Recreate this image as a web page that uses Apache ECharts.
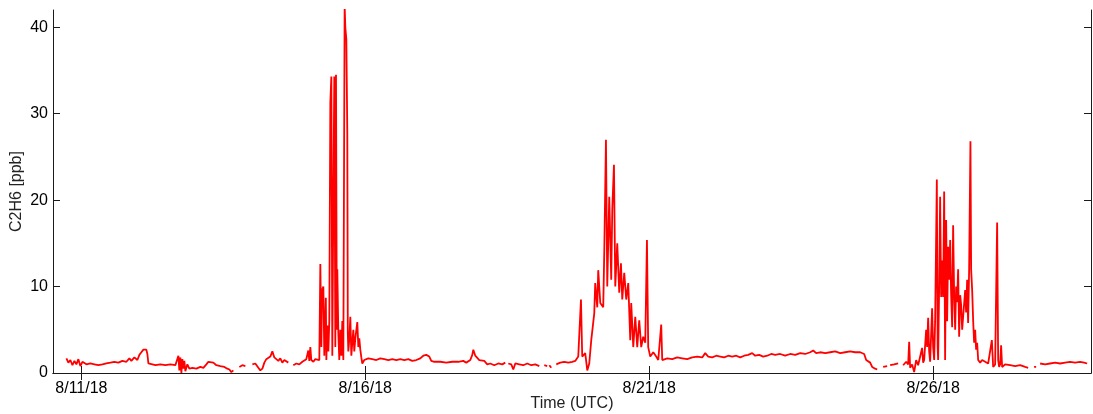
<!DOCTYPE html>
<html>
<head>
<meta charset="utf-8">
<script src="https://cdn.jsdelivr.net/npm/echarts@6/dist/echarts.min.js"></script>
<style>
  html, body { margin: 0; padding: 0; background: #fff; }
  #chart { width: 1093px; height: 414px; }
</style>
</head>
<body>
<div id="chart"></div>
<script>
// time in days of August 2018 (UTC), C2H6 in ppb; each segment is an unbroken run of the line
const seg1 = [[10.736,1.7],[10.771,1.2],[10.806,1.5],[10.842,0.9],[10.877,1.4],[10.912,1.0],[10.947,1.6],[10.982,0.8],[11.018,1.3],[11.053,1.1],[11.088,1.0],[11.158,1.1],[11.229,1.0],[11.299,0.9],[11.370,1.0],[11.440,1.1],[11.511,1.2],[11.581,1.3],[11.651,1.2],[11.722,1.4],[11.792,1.3],[11.845,1.7],[11.880,1.4],[11.933,1.8],[11.986,1.5],[12.021,2.1],[12.056,2.4],[12.092,2.7],[12.127,2.9],[12.144,2.7],[12.162,2.2],[12.180,1.1],[12.215,1.0],[12.303,0.9],[12.391,1.0],[12.479,0.9],[12.567,1.0],[12.655,0.9],[12.690,1.1],[12.708,2.0],[12.725,0.3],[12.743,1.8],[12.761,0.0],[12.778,1.6],[12.796,0.5],[12.813,1.4],[12.831,0.2],[12.866,1.0],[12.901,0.5],[12.954,0.6],[13.025,0.5],[13.095,0.7],[13.148,0.6],[13.201,1.0],[13.236,1.3],[13.271,1.1],[13.324,1.2],[13.377,0.9],[13.447,0.8],[13.518,0.7],[13.570,0.5],[13.606,0.4],[13.641,0.1],[13.676,0.3]];
const seg2 = [[13.782,0.7],[13.835,0.9],[13.888,0.8]];
const seg3 = [[14.011,1.0],[14.063,1.1],[14.116,0.6],[14.151,0.3],[14.187,0.5],[14.222,1.2],[14.257,1.6],[14.292,1.8],[14.327,1.9],[14.363,2.5],[14.398,1.8],[14.433,1.6],[14.468,1.4],[14.503,1.7],[14.539,1.2],[14.574,1.5],[14.609,1.3],[14.644,1.2]];
const seg4 = [[14.732,0.9],[14.785,1.1],[14.838,1.0],[14.891,1.3],[14.926,1.2],[14.961,1.6],[14.996,2.6],[15.014,1.4],[15.032,3.0],[15.049,1.5],[15.085,1.3],[15.120,1.6],[15.155,1.4],[15.190,1.5],[15.208,12.6],[15.226,3.0],[15.238,9.6],[15.261,10.0],[15.278,2.0],[15.305,8.7],[15.314,1.5],[15.331,5.5],[15.349,2.5],[15.366,6.0],[15.384,31.3],[15.402,34.3],[15.419,2.0],[15.437,20.0],[15.454,34.3],[15.472,3.0],[15.484,34.5],[15.498,5.0],[15.507,12.0],[15.525,4.6],[15.542,1.5],[15.560,5.0],[15.578,2.0],[15.595,6.0],[15.613,1.5],[15.636,42.5],[15.648,40.0],[15.666,38.6],[15.683,27.8],[15.692,4.6],[15.701,2.5],[15.719,4.0],[15.736,6.5],[15.754,2.0],[15.771,3.5],[15.789,5.0],[15.806,2.5],[15.824,4.0],[15.859,5.9],[15.877,3.0],[15.894,4.0],[15.912,2.7],[15.930,1.8],[15.947,1.1],[15.982,1.5],[16.053,1.7],[16.123,1.6],[16.194,1.5],[16.264,1.7],[16.335,1.6],[16.405,1.5],[16.475,1.6],[16.546,1.5],[16.616,1.6],[16.687,1.5],[16.757,1.6],[16.827,1.4],[16.898,1.5],[16.968,1.7],[17.021,2.0],[17.074,2.1],[17.127,1.9],[17.162,1.4],[17.215,1.3],[17.320,1.3],[17.426,1.2],[17.532,1.3],[17.637,1.3],[17.725,1.4],[17.778,1.2],[17.849,1.5],[17.884,2.1],[17.902,2.7],[17.937,2.0],[17.972,2.2],[18.007,1.5],[18.042,1.3],[18.095,1.4],[18.148,1.0],[18.201,1.1],[18.271,0.9],[18.342,1.1],[18.412,1.0],[18.465,1.2]];
const seg5 = [[18.518,1.1],[18.571,1.0],[18.606,0.4],[18.641,1.1],[18.712,1.0],[18.782,0.9],[18.852,1.1],[18.923,0.9],[18.993,1.0],[19.064,0.8]];
const seg6 = [[19.152,0.9],[19.204,0.8]];
const seg7 = [[19.240,0.9],[19.275,0.6]];
const seg8 = [[19.363,1.0],[19.433,1.2],[19.504,1.3],[19.574,1.2],[19.644,1.3],[19.697,1.4],[19.750,1.9],[19.798,8.5],[19.820,1.9],[19.873,2.3],[19.909,0.3],[19.944,1.1],[19.979,3.8],[20.032,6.9],[20.049,10.4],[20.085,7.6],[20.102,11.9],[20.138,8.1],[20.190,7.6],[20.208,13.9],[20.238,27.0],[20.261,10.0],[20.296,20.4],[20.331,10.8],[20.349,18.9],[20.379,24.1],[20.402,10.0],[20.437,15.0],[20.472,9.3],[20.502,12.7],[20.525,8.5],[20.560,11.6],[20.595,8.5],[20.631,10.4],[20.666,3.8],[20.683,8.1],[20.719,3.0],[20.754,6.5],[20.789,3.0],[20.824,6.1],[20.859,3.0],[20.894,4.2],[20.930,3.5],[20.960,15.4],[20.982,3.0],[21.018,1.9],[21.071,2.4],[21.123,1.9],[21.159,1.5],[21.211,5.6],[21.229,1.5],[21.317,1.7],[21.405,1.6],[21.493,1.8],[21.581,1.7],[21.669,1.6],[21.757,1.8],[21.845,1.9],[21.933,1.8],[21.986,2.3],[22.039,1.9],[22.109,1.8],[22.180,2.0],[22.250,1.9],[22.320,1.8],[22.391,2.0],[22.461,1.9],[22.532,2.0],[22.602,1.8],[22.673,2.0],[22.743,2.1],[22.813,2.3],[22.866,2.0],[22.937,2.1],[23.007,1.9],[23.078,2.0],[23.148,2.2],[23.218,2.1],[23.306,2.2],[23.394,2.0],[23.482,2.2],[23.571,2.1],[23.659,2.3],[23.747,2.2],[23.835,2.4],[23.888,2.6],[23.940,2.3],[24.011,2.4],[24.099,2.3],[24.187,2.4],[24.275,2.5],[24.363,2.3],[24.451,2.4],[24.539,2.5],[24.627,2.4],[24.715,2.4],[24.785,2.2],[24.821,1.5],[24.856,1.4],[24.891,1.2],[24.926,0.7],[24.979,0.5],[25.014,0.4]];
const seg9 = [[25.120,0.7],[25.190,0.8]];
const seg10 = [[25.243,0.9],[25.314,1.0],[25.384,1.1]];
const seg11 = [[25.472,0.9],[25.525,1.3],[25.560,1.0],[25.578,3.6],[25.595,0.6],[25.630,1.0],[25.666,0.1],[25.701,1.5],[25.736,0.9],[25.771,1.1],[25.806,2.9],[25.824,1.2],[25.842,1.5],[25.877,5.0],[25.894,3.0],[25.912,6.4],[25.930,2.5],[25.947,1.3],[25.982,7.5],[26.000,3.0],[26.018,1.5],[26.035,6.0],[26.065,22.4],[26.079,3.0],[26.088,1.5],[26.106,10.0],[26.123,20.4],[26.141,8.8],[26.159,13.0],[26.176,8.8],[26.194,21.0],[26.211,1.5],[26.229,17.7],[26.247,6.0],[26.264,14.6],[26.282,10.8],[26.300,15.4],[26.317,9.0],[26.335,5.3],[26.352,17.1],[26.370,9.0],[26.388,5.0],[26.405,10.0],[26.423,8.2],[26.440,12.0],[26.458,4.2],[26.476,9.0],[26.493,7.9],[26.511,5.0],[26.528,6.5],[26.546,8.0],[26.564,9.6],[26.581,7.0],[26.599,10.8],[26.616,5.8],[26.634,12.0],[26.657,26.8],[26.669,12.0],[26.687,9.6],[26.705,6.0],[26.722,3.5],[26.740,5.0],[26.757,2.7],[26.775,3.5],[26.793,1.5],[26.828,1.2],[26.863,1.5],[26.916,1.3],[26.969,1.1],[27.004,1.0],[27.034,3.8],[27.057,0.7],[27.092,1.0],[27.127,17.4],[27.145,1.5],[27.162,0.7],[27.180,1.0],[27.197,3.2],[27.215,0.7],[27.268,1.0],[27.356,0.9],[27.444,0.8],[27.532,0.9],[27.620,0.7],[27.673,0.6]];
const seg12 = [[27.778,0.7],[27.814,0.7]];
const seg13 = [[27.884,1.1],[27.972,1.0],[28.060,1.1],[28.148,1.2],[28.236,1.1],[28.324,1.2],[28.412,1.3],[28.500,1.2],[28.588,1.3],[28.659,1.2],[28.712,1.1]];

const tickDays = [11, 16, 21, 26];
const tickLabels = ['8/11/18', '8/16/18', '8/21/18', '8/26/18'];
const yTicks = [0, 10, 20, 30, 40];

// join the runs, a null value breaks the line between them
const segments = [seg1, seg2, seg3, seg4, seg5, seg6, seg7, seg8, seg9, seg10, seg11, seg12, seg13];
const lineData = [];
segments.forEach((seg, i) => {
  if (i > 0) lineData.push([seg[0][0], null]);
  seg.forEach(p => lineData.push(p));
});

const font = 'Liberation Sans, Arial, Helvetica, sans-serif';
const axisLine = { show: true, lineStyle: { color: '#1a1a1a', width: 1 } };

const chart = echarts.init(document.getElementById('chart'));
chart.setOption({
  animation: false,
  grid: { left: 53, right: 2, top: 10, bottom: 41, outerBoundsMode: 'none' },
  xAxis: [
    {
      type: 'value', min: 10.5, max: 28.78,
      name: 'Time (UTC)', nameLocation: 'middle', nameGap: 23, nameMoveOverlap: false,
      nameTextStyle: { color: '#222', fontSize: 16, fontFamily: font },
      axisLine,
      axisTick: { show: true, inside: true, length: 7, customValues: tickDays, lineStyle: { color: '#1a1a1a' } },
      axisLabel: {
        color: '#000', fontSize: 16, fontFamily: font, margin: 8,
        customValues: tickDays,
        formatter: v => tickLabels[tickDays.indexOf(Math.round(v))]
      },
      splitLine: { show: false }
    },
    {
      type: 'value', min: 10.5, max: 28.78, position: 'top',
      axisLine,
      axisTick: { show: true, inside: true, length: 7, customValues: tickDays, lineStyle: { color: '#1a1a1a' } },
      axisLabel: { show: false },
      splitLine: { show: false }
    }
  ],
  yAxis: [
    {
      type: 'value', min: 0, max: 42,
      name: 'C2H6 [ppb]', nameLocation: 'middle', nameGap: 28, nameMoveOverlap: false,
      nameTextStyle: { color: '#222', fontSize: 16, fontFamily: font },
      axisLine,
      axisTick: { show: true, inside: true, length: 7, customValues: yTicks, lineStyle: { color: '#1a1a1a' } },
      axisLabel: { color: '#000', fontSize: 16, fontFamily: font, margin: 5, customValues: yTicks },
      splitLine: { show: false }
    },
    {
      type: 'value', min: 0, max: 42, position: 'right',
      axisLine,
      axisTick: { show: true, inside: true, length: 7, customValues: yTicks, lineStyle: { color: '#1a1a1a' } },
      axisLabel: { show: false },
      splitLine: { show: false }
    }
  ],
  series: [
    {
      type: 'line',
      data: lineData,
      showSymbol: false,
      connectNulls: false,
      clip: true,
      lineStyle: { color: '#ff0000', width: 1.8 },
      itemStyle: { color: '#ff0000' }
    }
  ]
});
</script>
</body>
</html>
